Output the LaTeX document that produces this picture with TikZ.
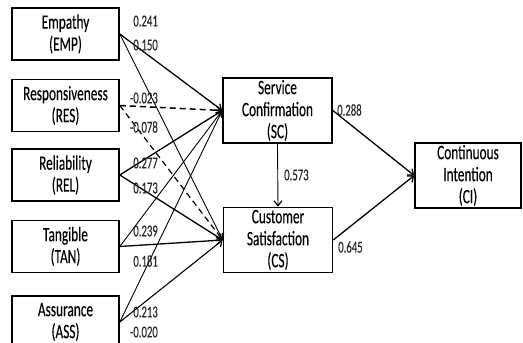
\documentclass[tikz,border=0pt]{standalone}
\usepackage{fontspec}
\setmainfont{Carlito}[FakeStretch=0.65,FakeBold=0.2]
\usetikzlibrary{arrows.meta}
\begin{document}
\begin{tikzpicture}[x=1pt,y=-1pt,
  box/.style={draw,line width=1.6pt,minimum width=107pt,minimum height=52pt,inner sep=0pt,align=center,
    font=\fontsize{20.5}{22}\selectfont},
  bigbox/.style={box,minimum width=109pt,minimum height=65pt},
  lab/.style={inner sep=0pt,text=black!85,font=\fontsize{16.5}{16}\selectfont},
  arr/.style={line width=1.3pt,-{Straight Barb[length=5pt,width=8pt,line width=1.2pt]}},
  thin arr/.style={arr,line width=0.9pt},
  dash arr/.style={arr,line width=1.5pt,dash pattern=on 6pt off 4pt}]
\useasboundingbox (0,0) rectangle (523,343);
\node[box] (emp) at (65.5,34) {Empathy\\(EMP)};
\node[box] (res) at (65.5,105.5) {Responsiveness\\(RES)};
\node[box] (rel) at (65.5,175) {Reliability\\(REL)};
\node[box] (tan) at (65.5,246.5) {Tangible\\(TAN)};
\node[box] (ass) at (65.5,322) {Assurance\\(ASS)};
\node[bigbox] (sc) at (277.5,110.5) {Service\\Confirmation\\(SC)};
\node[bigbox] (cs) at (278,240) {Customer\\Satisfaction\\(CS)};
\node[bigbox,minimum width=106pt] (ci) at (468,175.5) {Continuous\\Intention\\(CI)};
% arrows
\draw[arr] (emp.east) -- (sc.west);
\draw[thin arr] (emp.east) -- (cs.west);
\draw[dash arr] (res.east) -- (sc.west);
\draw[dash arr,line width=1.2pt] (res.east) -- (cs.west);
\draw[arr] (rel.east) -- (sc.west);
\draw[arr] (rel.east) -- (cs.west);
\draw[thin arr] (tan.east) -- (sc.west);
\draw[arr] (tan.east) -- (cs.west);
\draw[thin arr] (ass.east) -- (sc.west);
\draw[arr,line width=1.1pt] (ass.east) -- (cs.west);
\draw[thin arr] (sc.south) -- (cs.north);
\draw[arr] (sc.east) -- (ci.west);
\draw[arr] (cs.east) -- (ci.west);
% labels
\node[lab,anchor=east] (l1) at (158,21) {0.241};
\node[lab,anchor=east] (l2) at (158,45) {0.150};
\node[lab,anchor=east] (l3) at (158,98) {-0.023};
\node[lab,anchor=east] (l4) at (158,127) {-0.078};
\node[lab,anchor=east] (l5) at (158,163) {0.277};
\node[lab,anchor=east] (l6) at (158,188) {0.173};
\node[lab,anchor=east] (l7) at (158,231) {0.239};
\node[lab,anchor=east] (l8) at (158,261) {0.181};
\node[lab,anchor=east] (l9) at (158,312) {0.213};
\node[lab,anchor=east] (l10) at (158,332) {-0.020};
\node[lab,anchor=west] (l11) at (337,110) {0.288};
\node[lab,anchor=west] (l12) at (284,175) {0.573};
\node[lab,anchor=west] (l13) at (338,247) {0.645};
\end{tikzpicture}
\end{document}
